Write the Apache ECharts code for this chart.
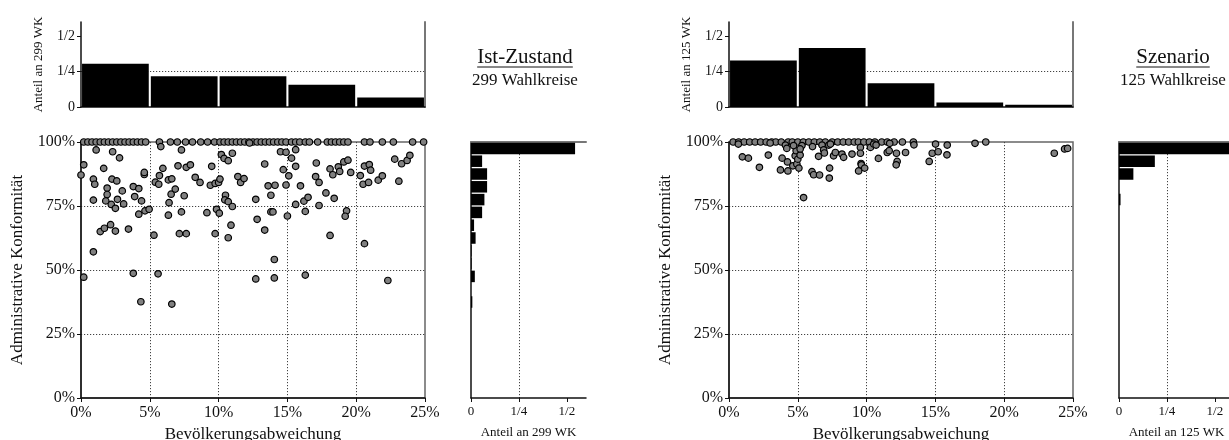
<!DOCTYPE html>
<html>
<head>
<meta charset="utf-8">
<title>Ist-Zustand / Szenario</title>
<script src="https://cdn.jsdelivr.net/npm/echarts@6/dist/echarts.min.js"></script>
<style>
  html, body { margin: 0; padding: 0; background: #fff; overflow: hidden; }
  #chart { width: 1229px; height: 440px; }
</style>
</head>
<body>
<div id="chart"></div>
<script>
// Klassen
var devBins = ['0-5', '5-10', '10-15', '15-20', '20-25'];
var konfBins = ['0-5', '5-10', '10-15', '15-20', '20-25', '25-30', '30-35', '35-40', '40-45', '45-50',
                '50-55', '55-60', '60-65', '65-70', '70-75', '75-80', '80-85', '85-90', '90-95', '95-100'];
var histTicks = [0, 0.25, 0.5];
var histTickLabels = ['0', '1/4', '1/2'];

// Ist-Zustand, 299 WK
var istDev = [0.305, 0.217, 0.217, 0.157, 0.067];
var istKonf = [0, 0, 0, 0, 0, 0, 0, 0.007, 0, 0.02, 0.003, 0.003, 0.024, 0.016, 0.058, 0.07, 0.084, 0.084, 0.058, 0.543];
// Wahlkreise mit 100% Konformitaet (nur Abweichung)
var istTop = [0.2, 0.5, 0.8, 1.1, 1.4, 1.7, 2.0, 2.3, 2.6, 2.9, 3.2, 3.5, 3.8, 4.1, 4.4, 4.7,
              5.7, 6.5, 7.0, 7.6, 8.1, 8.7, 9.2, 9.7,
              10.1, 10.4, 10.7, 11.0, 11.3, 11.6, 11.9, 12.2, 12.5, 12.8, 13.1, 13.4, 13.7, 14.0, 14.3, 14.6, 14.9,
              15.3, 15.6, 15.9, 16.3, 16.6, 17.2, 17.9, 18.2, 18.5, 18.8, 19.1, 19.4,
              20.6, 21.0, 21.9, 22.7, 24.1, 24.9];
var istPts = [[0.0, 87.1], [0.2, 91.1], [1.1, 96.9], [0.9, 85.5], [1.0, 83.5], [0.9, 77.3], [1.65, 89.7], [1.9, 82.0],
              [1.9, 79.5], [1.8, 77.0], [1.4, 65.0], [1.7, 66.3], [0.9, 57.1], [0.2, 47.2], [2.3, 96.2], [2.25, 85.5],
              [2.6, 84.8], [2.8, 93.8], [2.2, 75.6], [2.5, 74.1], [2.65, 77.6], [2.15, 67.7], [2.5, 65.2], [3.0, 80.9],
              [3.1, 75.8], [3.45, 66.0], [3.8, 82.6], [3.9, 78.7], [4.2, 81.8], [4.4, 77.0], [4.2, 71.8], [4.6, 87.3],
              [4.6, 88.1], [4.65, 73.1], [4.95, 73.7], [3.8, 48.7], [5.6, 48.5], [5.3, 63.6], [5.4, 84.3], [5.65, 83.5],
              [5.7, 86.9], [5.8, 98.2], [5.95, 89.7], [6.35, 85.2], [6.6, 85.6], [6.4, 76.3], [6.55, 79.6], [6.35, 71.4],
              [6.85, 81.6], [7.05, 90.7], [7.3, 96.9], [7.5, 79.0], [7.3, 72.7], [7.15, 64.2], [7.65, 64.2], [7.65, 90.1],
              [7.95, 91.1], [8.3, 86.2], [8.65, 84.2], [9.15, 72.4], [9.5, 90.5], [9.4, 83.1], [9.75, 83.8], [10.0, 84.2],
              [10.1, 85.5], [9.85, 73.7], [10.05, 72.2], [9.75, 64.2], [10.2, 95.1], [10.4, 93.6], [10.7, 92.7], [11.0, 95.6],
              [10.5, 79.2], [10.45, 77.4], [10.7, 76.7], [11.0, 74.8], [10.9, 67.5], [10.7, 62.6], [11.4, 86.5], [11.6, 84.2],
              [11.85, 85.7], [12.25, 99.6], [12.7, 77.6], [12.8, 69.8], [13.35, 91.4], [13.35, 65.6], [13.6, 82.9], [13.8, 79.2],
              [13.8, 72.7], [13.95, 72.7], [14.1, 83.1], [14.05, 54.1], [14.05, 46.9], [12.7, 46.5], [14.5, 96.2], [14.7, 89.2],
              [14.9, 96.0], [14.9, 83.2], [15.0, 71.1], [15.1, 86.8], [15.3, 93.7], [15.6, 90.5], [15.6, 97.0], [15.6, 75.6],
              [15.95, 82.9], [16.3, 72.9], [16.2, 76.9], [16.5, 78.4], [17.3, 75.2], [17.1, 91.8], [17.05, 86.5], [17.3, 84.2],
              [17.8, 80.1], [18.4, 78.0], [18.1, 89.5], [18.3, 87.2], [18.7, 90.3], [18.8, 88.5], [19.1, 92.2], [19.4, 92.9],
              [19.6, 88.1], [19.3, 73.1], [19.2, 71.0], [18.1, 63.5], [16.3, 48.0], [20.6, 60.3], [20.3, 86.9], [20.5, 83.5],
              [20.6, 90.6], [20.95, 91.2], [21.05, 89.0], [20.9, 84.2], [21.6, 85.1], [21.9, 86.8], [22.3, 45.9], [22.8, 93.3],
              [23.1, 84.7], [23.3, 91.5], [23.7, 92.8], [23.9, 94.8], [4.35, 37.6], [6.6, 36.7]];

// Szenario, 125 WK
var szDev = [0.328, 0.416, 0.168, 0.032, 0.016];
var szKonf = [0, 0, 0, 0, 0, 0, 0, 0, 0, 0, 0, 0, 0, 0, 0, 0.008, 0, 0.075, 0.187, 0.70];
var szTop = [0.3, 0.7, 1.1, 1.5, 1.9, 2.3, 2.7, 3.1, 3.4, 3.8, 4.3, 4.6, 5.0, 5.4, 5.8, 6.2, 6.6, 7.0, 7.5, 7.9,
             8.3, 8.7, 9.1, 9.4, 9.8, 10.2, 10.6, 11.1, 11.5, 12.0, 12.6, 13.4];
var szPts = [[0.68, 99.2], [0.97, 94.2], [1.41, 93.7], [2.21, 90.1], [2.86, 94.9], [2.99, 99.6], [3.86, 93.7], [3.74, 89.1],
             [4.25, 92.2], [4.28, 88.7], [4.64, 90.7], [4.93, 91.4], [5.08, 89.8], [4.81, 94.6], [4.88, 96.6], [5.0, 93.3],
             [5.17, 94.9], [4.1, 98.8], [4.2, 97.5], [4.69, 98.6], [5.3, 98.6], [5.17, 97.3], [5.42, 78.3], [6.07, 98.2],
             [6.03, 88.4], [6.15, 87.2], [6.51, 94.4], [6.58, 87.1], [6.76, 98.8], [6.88, 96.9], [6.93, 95.7], [7.25, 98.8],
             [7.37, 99.2], [7.31, 89.8], [7.29, 85.9], [7.6, 94.6], [7.73, 95.9], [8.21, 95.3], [8.33, 94.0], [8.94, 95.3],
             [9.55, 97.9], [9.55, 95.6], [9.6, 91.6], [9.42, 88.7], [9.62, 91.1], [9.86, 89.8], [10.28, 97.9], [10.52, 99.2],
             [10.69, 98.8], [10.86, 93.6], [11.5, 95.9], [11.64, 96.6], [11.68, 99.5], [12.17, 95.6], [12.22, 92.4], [12.15, 91.1],
             [12.83, 95.9], [13.44, 98.9], [14.55, 92.4], [14.77, 95.6], [15.01, 99.2], [15.2, 96.2], [15.86, 98.8], [15.84, 95.0],
             [17.88, 99.5], [18.66, 100], [23.64, 95.6], [24.39, 97.3], [24.61, 97.5]];

var FONT = 'Liberation Serif';
var INK = '#111';
var dotted = { color: '#444', type: [1.2, 1.8], width: 1 };

function histLabel(v) {
    var i = histTicks.indexOf(v);
    return i < 0 ? '' : histTickLabels[i];
}

var grids = [], xAxes = [], yAxes = [], series = [];

function panel(x0, sideX, n, dev, konf, top, pts) {
    var g = grids.length;
    // Histogramm oben
    grids.push({ left: x0, top: 22, width: 344, height: 85, outerBoundsMode: 'none' });
    // Streudiagramm
    grids.push({ left: x0, top: 142, width: 344, height: 256, outerBoundsMode: 'none',
                 show: true, borderColor: '#666', borderWidth: 1.5 });
    // Histogramm rechts
    grids.push({ left: sideX, top: 142, width: 115, height: 256, outerBoundsMode: 'none' });

    var xi = xAxes.length, yi = yAxes.length;

    xAxes.push({
        gridIndex: g, type: 'category', data: devBins,
        axisLine: { show: true, lineStyle: { color: INK, width: 1.5 } },
        axisTick: { show: false }, axisLabel: { show: false }
    });
    yAxes.push({
        gridIndex: g, type: 'value', min: 0, max: 0.6, interval: 0.25,
        name: 'Anteil an ' + n + ' WK', nameLocation: 'middle', nameGap: 36,
        nameTextStyle: { fontFamily: FONT, fontSize: 13, color: INK },
        axisLine: { show: true, lineStyle: { color: INK, width: 1.5 } },
        axisTick: { show: true, length: 4, customValues: histTicks, lineStyle: { color: INK } },
        axisLabel: { customValues: histTicks, formatter: histLabel, fontFamily: FONT, fontSize: 14, color: INK, margin: 6 },
        splitLine: { show: true, showMinLine: false, showMaxLine: false, lineStyle: dotted }
    });
    yAxes.push({
        gridIndex: g, type: 'value', position: 'right', min: 0, max: 0.6,
        axisLine: { show: true, lineStyle: { color: '#777', width: 2 } },
        axisTick: { show: false }, axisLabel: { show: false }, splitLine: { show: false }
    });
    series.push({
        type: 'bar', xAxisIndex: xi, yAxisIndex: yi, data: dev,
        barCategoryGap: '3%', itemStyle: { color: '#000' }, silent: true
    });

    xAxes.push({
        gridIndex: g + 1, type: 'value', min: 0, max: 25, interval: 5,
        name: 'Bevölkerungsabweichung', nameLocation: 'middle', nameGap: 28,
        nameTextStyle: { fontFamily: FONT, fontSize: 17, color: INK },
        axisLine: { show: true, lineStyle: { color: INK, width: 1.5 } },
        axisTick: { show: true, length: 4, lineStyle: { color: INK } },
        axisLabel: { formatter: '{value}%', fontFamily: FONT, fontSize: 16, color: INK, margin: 7 },
        splitLine: { show: true, showMinLine: false, showMaxLine: false, lineStyle: dotted }
    });
    yAxes.push({
        gridIndex: g + 1, type: 'value', min: 0, max: 100, interval: 25,
        name: 'Administrative Konformität', nameLocation: 'middle', nameGap: 55,
        nameTextStyle: { fontFamily: FONT, fontSize: 17, color: INK },
        axisLine: { show: true, lineStyle: { color: INK, width: 1.5 } },
        axisTick: { show: true, length: 4, lineStyle: { color: INK } },
        axisLabel: { formatter: '{value}%', fontFamily: FONT, fontSize: 16, color: INK, margin: 6 },
        splitLine: { show: true, showMinLine: false, showMaxLine: false, lineStyle: dotted }
    });
    series.push({
        type: 'scatter', xAxisIndex: xi + 1, yAxisIndex: yi + 2, clip: false, silent: true,
        data: top.map(function (v) { return [v, 100]; }).concat(pts),
        symbolSize: 6.5,
        itemStyle: { color: '#808080', borderColor: '#000', borderWidth: 1.2, opacity: 1 }
    });

    xAxes.push({
        gridIndex: g + 2, type: 'value', min: 0, max: 0.6, interval: 0.25,
        name: 'Anteil an ' + n + ' WK', nameLocation: 'middle', nameGap: 28,
        nameTextStyle: { fontFamily: FONT, fontSize: 13, color: INK },
        axisLine: { show: true, lineStyle: { color: INK, width: 1.5 } },
        axisTick: { show: true, length: 4, customValues: histTicks, lineStyle: { color: INK } },
        axisLabel: { customValues: histTicks, formatter: histLabel, fontFamily: FONT, fontSize: 13, color: INK, margin: 7 },
        splitLine: { show: true, showMinLine: false, showMaxLine: false, lineStyle: dotted }
    });
    xAxes.push({
        gridIndex: g + 2, type: 'value', position: 'top', min: 0, max: 0.6,
        axisLine: { show: true, lineStyle: { color: '#777', width: 2 } },
        axisTick: { show: false }, axisLabel: { show: false }, splitLine: { show: false }
    });
    yAxes.push({
        gridIndex: g + 2, type: 'category', data: konfBins,
        axisLine: { show: true, lineStyle: { color: INK, width: 1.5 } },
        axisTick: { show: false }, axisLabel: { show: false }
    });
    series.push({
        type: 'bar', xAxisIndex: xi + 2, yAxisIndex: yi + 3, data: konf,
        barCategoryGap: '10%', itemStyle: { color: '#000' }, silent: true
    });
}

panel(81, 471, 299, istDev, istKonf, istTop, istPts);
panel(729, 1119, 125, szDev, szKonf, szTop, szPts);

// Ueberschriften, unterstrichen
var ctx = document.createElement('canvas').getContext('2d');
function heading(cx, title, sub) {
    ctx.font = '21px "' + FONT + '"';
    var w = ctx.measureText(title).width;
    return [
        { type: 'text', x: cx, y: 57, style: { text: title, font: '21px "' + FONT + '"', fill: INK, align: 'center', verticalAlign: 'middle' } },
        { type: 'line', shape: { x1: cx - w / 2, y1: 67, x2: cx + w / 2, y2: 67 }, style: { stroke: INK, lineWidth: 1 } },
        { type: 'text', x: cx, y: 81, style: { text: sub, font: '17px "' + FONT + '"', fill: INK, align: 'center', verticalAlign: 'middle' } }
    ];
}

var chart = echarts.init(document.getElementById('chart'));
chart.setOption({
    animation: false,
    backgroundColor: '#fff',
    grid: grids,
    xAxis: xAxes,
    yAxis: yAxes,
    series: series,
    graphic: heading(525, 'Ist-Zustand', '299 Wahlkreise').concat(heading(1173, 'Szenario', '125 Wahlkreise'))
});
</script>
</body>
</html>
